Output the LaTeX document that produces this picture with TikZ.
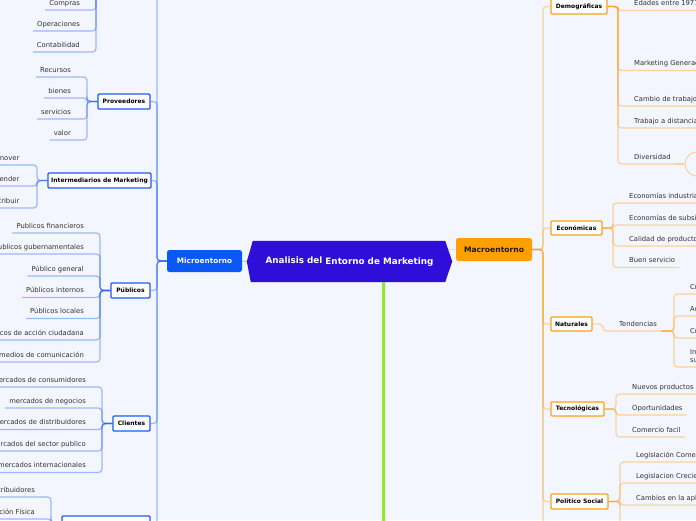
\documentclass[tikz,border=0pt]{standalone}
\usepackage{fontspec}
\setmainfont{DejaVu Sans}
\usetikzlibrary{calc}
\definecolor{bgc}{RGB}{243,246,254}
\definecolor{mblue}{RGB}{30,90,250}
\definecolor{morange}{RGB}{255,160,20}
\definecolor{microfill}{RGB}{12,88,246}
\definecolor{macrofill}{RGB}{255,159,0}
\definecolor{centerfill}{RGB}{48,14,218}
\definecolor{leafgray}{RGB}{50,50,50}
\definecolor{glime}{RGB}{140,240,30}
\tikzset{
  leaf/.style={font=\fontsize{6.8}{8}\selectfont, text=leafgray, inner xsep=4pt, inner ysep=0pt, text height=5pt, text depth=4.5pt},
  bconn/.style={draw=mblue, draw opacity=0.4, line width=1.2pt, rounded corners=3.5pt},
  oconn/.style={draw=morange, draw opacity=0.4, line width=1.2pt, rounded corners=3.5pt},
  bbox/.style={draw=mblue, line width=1.2pt, fill=white, text=black, font=\fontsize{6}{7}\selectfont\bfseries, inner sep=0pt, minimum height=15pt, rounded corners=1pt},
  obox/.style={bbox, draw=morange},
}
\begin{document}
\begin{tikzpicture}[x=1pt,y=-1pt]
\path[fill=bgc, use as bounding box] (0,0) rectangle (696,520);
\clip (0,0) rectangle (696,520);

% ---------- central ----------
\node[minimum width=205pt, minimum height=41pt, inner sep=0pt] (center) at (349.5,261.5) {};
\coordinate (gend) at (383,540);
\draw[draw=glime, line width=3pt] (center.south -| gend) -- (gend);
\node[rounded corners=2.5pt, fill=microfill, text=white, font=\fontsize{7.3}{9}\selectfont\bfseries, minimum width=75pt, minimum height=22pt, inner sep=0pt] (micro) at (204.5,261) {Microentorno};
\node[rounded corners=2.5pt, fill=macrofill, text=black!90, font=\fontsize{7.6}{9}\selectfont\bfseries, minimum width=76pt, minimum height=23pt, inner sep=0pt] (macro) at (494,249.5) {Macroentorno};
\draw[draw=mblue, draw opacity=0.3, line width=1pt] (center.west) -- (micro.east);
\draw[draw=morange, draw opacity=0.35, line width=1.2pt] (macro.west) -- ([xshift=-6pt]center.east |- macro.west);
\fill[centerfill] ([xshift=6pt]center.north west) -- ([xshift=-7pt]center.north east) -- (center.east) -- ([xshift=-7pt]center.south east) -- ([xshift=4pt]center.south west) -- (center.west) -- cycle;
\node[font=\fontsize{8.8}{10}\selectfont\bfseries, text=white] (title) at (center) {\raisebox{1.3pt}{Analisis del} Entorno de Marketing};

% ---------- left branches ----------
\node[bbox, minimum width=52pt] (prov) at (124,101.5) {Proveedores};
\node[bbox, minimum width=103pt] (inter) at (99.5,180.5) {Intermediarios de Marketing};
\node[bbox, minimum width=39pt] (publ) at (130.5,290.5) {Públicos};
\node[bbox, minimum width=37pt] (cli) at (131.5,423.5) {Clientes};
\node[bbox, minimum width=88pt] (distb) at (106,523.5) {};
\coordinate (topw) at (107,-15);
\coordinate (tope) at (150,-15);
\coordinate (ltr) at (157,261);
\foreach \b in {prov,inter,publ,cli,distb}
  \draw[bconn] (\b.east) -- (\b.east -| ltr) -- (ltr) -- (micro.west);
\draw[bconn] (tope) -- (tope -| ltr) -- (ltr) -- (micro.west);

% top group
\coordinate (topbr) at (96,-15);
\foreach \n/\y/\t in {c1/10/Compras, c2/31/Operaciones, c3/52/Contabilidad}{
  \node[leaf, anchor=south east] (\n) at (84,\y) {\t};
  \draw[bconn] (topw) -- (topbr) -- (topbr |- \n.south) -- (\n.south west);
}
% Proveedores
\coordinate (provbr) at (87,101.5);
\foreach \n/\y/\t in {r1/77/Recursos, r2/98/bienes, r3/119/servicios, r4/140/valor}{
  \node[leaf, anchor=south east] (\n) at (75,\y) {\t};
  \draw[bconn] (prov.west) -- (provbr) -- (provbr |- \n.south) -- (\n.south west);
}
% Intermediarios
\coordinate (interbr) at (37,180.5);
\foreach \n/\y/\t in {i1/165/Promover, i2/186/Vender, i3/208/Distribuir}{
  \node[leaf, anchor=south east] (\n) at (23.5,\y) {\t};
  \draw[bconn] (inter.west) -- (interbr) -- (interbr |- \n.south) -- (\n.south west);
}
% Publicos
\coordinate (publbr) at (100,290.5);
\foreach \n/\y/\t in {u1/233/Publicos financieros, u2/254/Publicos gubernamentales, u3/276/Público general, u4/297.5/Públicos internos, u5/318.5/Públicos locales, u6/340/Publicos de acción ciudadana, u7/362/Públicos de medios de comunicación}{
  \node[leaf, anchor=south east] (\n) at (88,\y) {\t};
  \draw[bconn] (publ.west) -- (publbr) -- (publbr |- \n.south) -- (\n.south west);
}
% Clientes
\coordinate (clibr) at (102,423.5);
\foreach \n/\y/\t in {k1/387/mercados de consumidores, k2/408/mercados de negocios, k3/429.5/mercados de distribuidores, k4/451/mercados del sector publico, k5/472.5/mercados internacionales}{
  \node[leaf, anchor=south east] (\n) at (90,\y) {\t};
  \draw[bconn] (cli.west) -- (clibr) -- (clibr |- \n.south) -- (\n.south west);
}
% bottom group
\coordinate (distbbr) at (51,523.5);
\foreach \n/\y/\t in {d1/497/Distribuidores, d2/519/Distribución Física}{
  \node[leaf, anchor=south east] (\n) at (39,\y) {\t};
  \draw[bconn] (distb.west) -- (distbbr) -- (distbbr |- \n.south) -- (\n.south west);
}

% ---------- right branches ----------
\node[obox, minimum width=56pt] (demo) at (579,6.5) {Demográficas};
\node[obox, minimum width=51pt, minimum height=14pt] (eco) at (576.5,228) {Económicas};
\node[obox, minimum width=41pt, minimum height=14pt] (nat) at (571.5,324) {Naturales};
\node[obox, minimum width=53pt, minimum height=14pt] (tec) at (577.5,409) {Tecnológicas};
\node[obox, minimum width=57pt] (pol) at (579.5,501.5) {Politico Social};
\coordinate (nextbr) at (560,560);
\coordinate (rtr) at (543,249.5);
\foreach \b in {demo,eco,nat,tec,pol}
  \draw[oconn] (macro.east) -- (rtr) -- (rtr |- \b.west) -- (\b.west);
\draw[oconn] (macro.east) -- (rtr) -- (rtr |- nextbr) -- (nextbr);

% Demograficas
\coordinate (demobr) at (618,6.5);
\foreach \n/\y/\t in {e1/10.5/Edades entre 1977 y 1994, e2/70.5/Marketing Generacional, e3/106/Cambio de trabajo, e4/128/Trabajo a distancia, e5/164/Diversidad}{
  \node[leaf, anchor=south west] (\n) at (630,\y) {\t};
  \draw[oconn] (demo.east) -- (demobr) -- (demobr |- \n.south) -- (\n.south east);
}
\node[circle, draw=morange, draw opacity=0.4, line width=1.2pt, minimum size=24pt, inner sep=0pt] (divc) at (697,164) {};
\draw[oconn] (e5.south east) -- (divc.west);

% Economicas
\coordinate (ecobr) at (613,228);
\foreach \n/\y/\t in {o1/203/Economías industrializadas, o2/225/Economías de subsistencia, o3/246/Calidad de productos, o4/267.5/Buen servicio}{
  \node[leaf, anchor=south west] (\n) at (625,\y) {\t};
  \draw[oconn] (eco.east) -- (ecobr) -- (ecobr |- \n.south) -- (\n.south east);
}

% Naturales
\coordinate (natbr) at (603,324);
\node[leaf, anchor=south west] (tend) at (615,331) {Tendencias};
\draw[oconn] (nat.east) -- (natbr) -- (natbr |- tend.south) -- (tend.south east);
\coordinate (tendbr) at (674,331);
\foreach \n/\y/\t in {t1/294/Creciente escasez de materias primas, t2/316/Aumento en el costo de la energía, t3/338/Crecientes niveles de contaminación}{
  \node[leaf, anchor=south west] (\n) at (686,\y) {\t};
  \draw[oconn] (tend.south east) -- (tendbr) -- (tendbr |- \n.south) -- (\n.south east);
}
\node[leaf, anchor=south west, align=left] (t4) at (686,367) {Intervención del gobierno\\sustentabilidad};
\draw[oconn] (tend.south east) -- (tendbr) -- (tendbr |- t4.south) -- (t4.south east);

% Tecnologicas
\coordinate (tecbr) at (616,409);
\foreach \n/\y/\t in {g1/394/Nuevos productos, g2/415/Oportunidades, g3/437/Comercio facil}{
  \node[leaf, anchor=south west] (\n) at (628,\y) {\t};
  \draw[oconn] (tec.east) -- (tecbr) -- (tecbr |- \n.south) -- (\n.south east);
}

% Politico Social
\coordinate (polbr) at (620,501.5);
\foreach \n/\y/\t in {s1/462/Legislación Comercial, s2/483/Legislacion Creciente, s3/505/Cambios en la aplicación de la ley}{
  \node[leaf, anchor=south west] (\n) at (632,\y) {\t};
  \draw[oconn] (pol.east) -- (polbr) -- (polbr |- \n.south) -- (\n.south east);
}
\coordinate (polnext) at (640,540);
\draw[oconn] (pol.east) -- (polbr) -- (polbr |- polnext) -- (polnext);
\end{tikzpicture}
\end{document}
